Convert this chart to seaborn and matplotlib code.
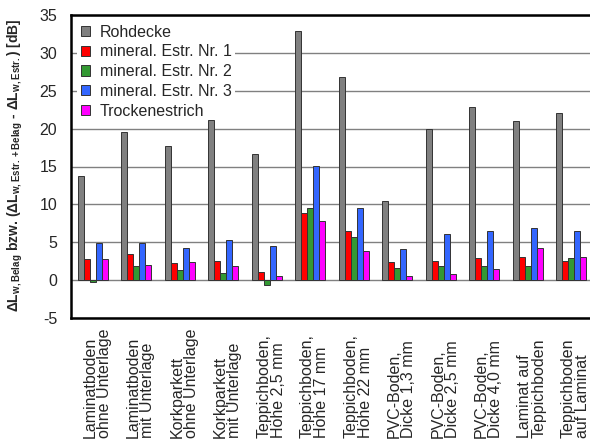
import pandas as pd
import seaborn as sns
import matplotlib.pyplot as plt
from matplotlib import transforms

belag = ["Laminatboden\nohne Unterlage", "Laminatboden\nmit Unterlage",
         "Korkparkett\nohne Unterlage", "Korkparkett\nmit Unterlage",
         "Teppichboden,\nHöhe 2,5 mm", "Teppichboden,\nHöhe 17 mm",
         "Teppichboden,\nHöhe 22 mm", "PVC-Boden,\nDicke 1,3 mm",
         "PVC-Boden,\nDicke 2,5 mm", "PVC-Boden,\nDicke 4,0 mm",
         "Laminat auf\nTeppichboden", "Teppichboden\nauf Laminat"]

serien = ["Rohdecke", "mineral. Estr. Nr. 1", "mineral. Estr. Nr. 2",
          "mineral. Estr. Nr. 3", "Trockenestrich"]

rohdecke = [13.7, 19.6, 17.7, 21.1, 16.7, 32.9, 26.75, 10.4, 20.0, 22.9, 21.0, 22.1]
estr_1 = [2.8, 3.4, 2.25, 2.5, 1.1, 8.8, 6.45, 2.4, 2.5, 2.95, 3.1, 2.5]
estr_2 = [-0.3, 1.9, 1.3, 0.9, -0.7, 9.5, 5.65, 1.55, 1.9, 1.8, 1.9, 2.95]
estr_3 = [4.9, 4.9, 4.2, 5.3, 4.45, 15.05, 9.5, 4.1, 6.1, 6.45, 6.9, 6.45]
trocken = [2.8, 2.0, 2.4, 1.8, 0.6, 7.8, 3.9, 0.6, 0.85, 1.45, 4.25, 3.1]

farben = ["#808080", "#ff0000", "#339933", "#3366ff", "#ff00ff"]

rows = []
for name, vals in zip(serien, [rohdecke, estr_1, estr_2, estr_3, trocken]):
    for b, v in zip(belag, vals):
        rows.append({"Belag": b, "Serie": name, "dL": v})
df = pd.DataFrame(rows)

sns.set_style("white")
plt.rcParams['font.family'] = ['Liberation Sans', 'DejaVu Sans']
plt.rcParams['axes.unicode_minus'] = False
plt.rcParams['mathtext.fontset'] = 'custom'
plt.rcParams['mathtext.rm'] = 'Liberation Sans:bold'
plt.rcParams['mathtext.bf'] = 'Liberation Sans:bold'
plt.rcParams['mathtext.it'] = 'Liberation Sans:bold'
plt.rcParams['mathtext.default'] = 'rm'

fig = plt.figure(figsize=(5.9, 4.41), dpi=100)
ax = fig.add_axes([71 / 590, 123 / 441, 522 / 590, 303 / 441])

sns.barplot(data=df, x="Belag", y="dL", hue="Serie", order=belag, hue_order=serien,
            palette=farben, saturation=1, width=0.69, edgecolor="#333333",
            linewidth=0.7, ax=ax)

ax.set_ylim(-5, 35)
ax.set_yticks(range(-5, 36, 5))
ax.set_xlim(-0.5, len(belag) - 0.5)
ax.yaxis.grid(True, color="#808080", linewidth=1)
ax.set_axisbelow(True)
ax.set_xticks(range(len(belag)))
ax.set_xticklabels([])
ax.set_xlabel("")
ax.set_ylabel("")
ax.tick_params(axis="y", length=0, pad=10, labelsize=11.5)
ax.tick_params(axis="x", length=0)
for sp in ax.spines.values():
    sp.set_color("black")
    sp.set_linewidth(1.8)

# x labels, bottom aligned like in the original
trans = transforms.blended_transform_factory(ax.transData, fig.transFigure)
for i, lab in enumerate(belag):
    ax.text(i + 0.1, 3 / 441, lab, transform=trans, rotation=90, ha="center",
            va="bottom", multialignment="left", fontsize=11.5, linespacing=0.95)

fig.text(15 / 590, 0.625,
         "ΔL$_{w,Belag}$ bzw. (ΔL$_{w,Estr.+Belag}$ - ΔL$_{w,Estr.}$) [dB]",
         rotation=90, ha="center", va="center", fontsize=10, fontweight="bold")

leg = ax.get_legend()
handles = leg.legend_handles
labels = [t.get_text() for t in leg.get_texts()]
leg = ax.legend(handles, labels, loc="upper left", frameon=True, facecolor="white",
                edgecolor="none", framealpha=1, fancybox=False, fontsize=11.5,
                handlelength=0.6, handleheight=0.6, handletextpad=0.6,
                labelspacing=0.3, borderaxespad=0.4, borderpad=0.2)
leg.set_zorder(0.8)  # over the grid, under the bars

fig.savefig("out.png", dpi=100)
